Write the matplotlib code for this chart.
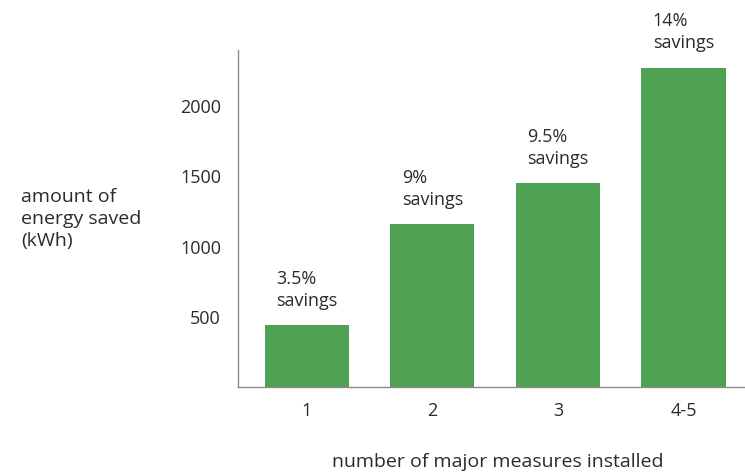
import matplotlib.pyplot as plt
import numpy as np

plt.rcParams['font.family'] = ['Open Sans', 'DejaVu Sans']

# measures installed vs. energy saved
categories = ['1', '2', '3', '4-5']
energy_saved = [440, 1160, 1450, 2275]
savings_labels = ['3.5%\nsavings', '9%\nsavings', '9.5%\nsavings', '14%\nsavings']
yticks = [500, 1000, 1500, 2000]

bar_color = '#4fa254'
text_color = '#2b2b2b'

fig = plt.figure(figsize=(7.45, 4.73), dpi=100)
ax = fig.add_axes([0.319, 0.182, 0.681, 0.712])

x = np.arange(len(categories))
ax.bar(x, energy_saved, width=0.672, color=bar_color)

for xi, val, lab in zip(x, energy_saved, savings_labels):
    ax.annotate(lab, (xi, val), xytext=(0, 11), textcoords='offset points',
                ha='center', va='bottom', multialignment='left',
                fontsize=13, color=text_color, linespacing=1.3)

ax.set_xlim(-0.55, 3.49)
ax.set_ylim(0, 2400)
ax.set_xticks(x)
ax.set_xticklabels(categories)
ax.set_yticks(yticks)
ax.tick_params(axis='both', length=0, labelsize=13, labelcolor=text_color)
ax.tick_params(axis='x', pad=11)
ax.tick_params(axis='y', pad=12)

for side in ['top', 'right']:
    ax.spines[side].set_visible(False)
for side in ['left', 'bottom']:
    ax.spines[side].set_color('#8c8c8c')
    ax.spines[side].set_linewidth(1.0)

fig.text(21 / 745, 1 - 219 / 473, 'amount of\nenergy saved\n(kWh)',
         ha='left', va='center', fontsize=14, color=text_color, linespacing=1.3)
fig.text(498 / 745, 1 - 462 / 473, 'number of major measures installed',
         ha='center', va='center', fontsize=14, color=text_color)

fig.savefig('out.png', dpi=100)
